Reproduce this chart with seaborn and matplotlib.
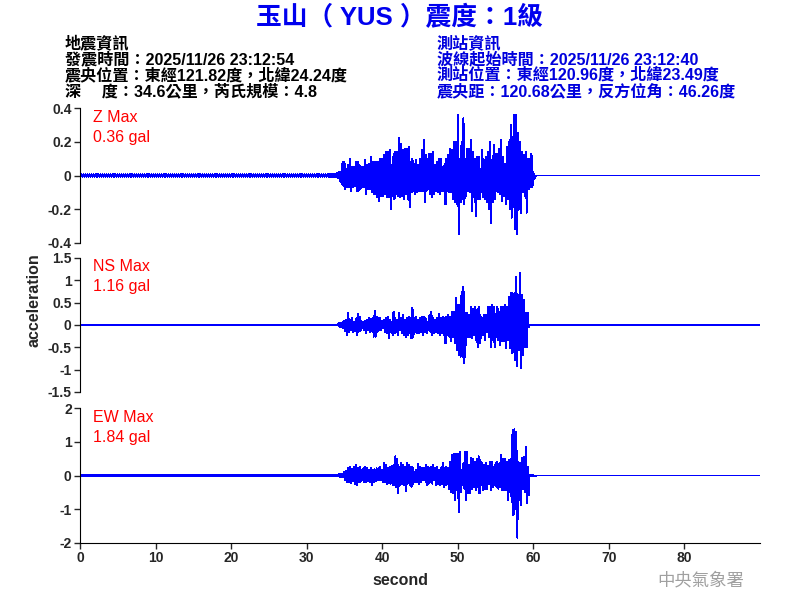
import numpy as np
import seaborn as sns
import matplotlib.pyplot as plt
from matplotlib.ticker import FuncFormatter

# upper / lower peaks of each trace, read every 0.25 s from 33 s to 60 s (gal)
t_start, t_step = 33.0, 0.25

z_up = [0.01, 0.01, 0.01, 0.01, 0.015, 0.02, 0.02, 0.08, 0.08, 0.04,
        0.06, 0.10, 0.05, 0.05, 0.08, 0.08, 0.06, 0.05, 0.05, 0.09,
        0.06, 0.07, 0.11, 0.08, 0.08, 0.08, 0.08, 0.10, 0.10, 0.12,
        0.14, 0.14, 0.15, 0.06, 0.13, 0.14, 0.14, 0.22, 0.19, 0.15,
        0.16, 0.16, 0.17, 0.08, 0.10, 0.07, 0.09, 0.06, 0.10, 0.15,
        0.21, 0.12, 0.10, 0.13, 0.13, 0.14, 0.06, 0.08, 0.10, 0.10,
        0.05, 0.07, 0.10, 0.12, 0.16, 0.15, 0.20, 0.20, 0.36, 0.10,
        0.20, 0.34, 0.10, 0.16, 0.16, 0.21, 0.14, 0.10, 0.11, 0.11,
        0.04, 0.15, 0.09, 0.11, 0.14, 0.20, 0.09, 0.18, 0.13, 0.13,
        0.16, 0.21, 0.11, 0.07, 0.17, 0.20, 0.30, 0.23, 0.36, 0.36,
        0.25, 0.20, 0.14, 0.12, 0.14, 0.10, 0.10, 0.13, 0.02]
z_dn = [-0.01, -0.01, -0.01, -0.01, -0.015, -0.03, -0.05, -0.06, -0.08, -0.07,
        -0.07, -0.09, -0.07, -0.06, -0.09, -0.09, -0.08, -0.07, -0.07, -0.11,
        -0.08, -0.08, -0.10, -0.11, -0.11, -0.13, -0.15, -0.12, -0.12, -0.11,
        -0.13, -0.13, -0.20, -0.12, -0.14, -0.11, -0.12, -0.13, -0.12, -0.14,
        -0.11, -0.14, -0.19, -0.10, -0.09, -0.11, -0.10, -0.09, -0.09, -0.09,
        -0.16, -0.09, -0.08, -0.11, -0.13, -0.11, -0.09, -0.10, -0.11, -0.09,
        -0.09, -0.17, -0.09, -0.10, -0.10, -0.14, -0.16, -0.17, -0.35, -0.16,
        -0.14, -0.17, -0.12, -0.09, -0.10, -0.21, -0.13, -0.24, -0.14, -0.14,
        -0.10, -0.13, -0.14, -0.16, -0.20, -0.28, -0.16, -0.14, -0.09, -0.10,
        -0.11, -0.15, -0.12, -0.17, -0.14, -0.20, -0.25, -0.19, -0.32, -0.35,
        -0.20, -0.22, -0.10, -0.12, -0.22, -0.08, -0.07, -0.07, -0.02]

ns_up = [0.01, 0.01, 0.01, 0.01, 0.01, 0.04, 0.04, 0.06, 0.09, 0.11,
         0.28, 0.11, 0.15, 0.07, 0.13, 0.24, 0.19, 0.09, 0.07, 0.09,
         0.11, 0.15, 0.13, 0.15, 0.31, 0.19, 0.15, 0.15, 0.09, 0.11,
         0.15, 0.19, 0.11, 0.07, 0.30, 0.15, 0.11, 0.26, 0.15, 0.22,
         0.11, 0.15, 0.19, 0.15, 0.39, 0.15, 0.19, 0.11, 0.16, 0.19,
         0.19, 0.15, 0.07, 0.22, 0.30, 0.15, 0.11, 0.15, 0.24, 0.15,
         0.19, 0.15, 0.19, 0.22, 0.19, 0.30, 0.30, 0.60, 0.45, 0.45,
         0.75, 0.86, 0.26, 0.26, 0.22, 0.41, 0.37, 0.41, 0.34, 0.41,
         0.22, 0.15, 0.22, 0.22, 0.41, 0.41, 0.45, 0.41, 0.24, 0.41,
         0.30, 0.41, 0.41, 0.45, 0.41, 0.63, 0.71, 0.71, 0.71, 1.08,
         0.67, 1.16, 0.67, 0.56, 0.28, 0.28, 0.01, 0.01, 0.01]
ns_dn = [-0.01, -0.01, -0.01, -0.01, -0.01, -0.04, -0.04, -0.07, -0.13, -0.22,
         -0.15, -0.11, -0.15, -0.13, -0.22, -0.15, -0.13, -0.07, -0.11, -0.19,
         -0.11, -0.15, -0.13, -0.26, -0.26, -0.15, -0.11, -0.11, -0.07, -0.15,
         -0.19, -0.30, -0.15, -0.22, -0.19, -0.15, -0.22, -0.11, -0.19, -0.22,
         -0.26, -0.22, -0.19, -0.30, -0.26, -0.15, -0.19, -0.19, -0.15, -0.22,
         -0.15, -0.19, -0.11, -0.15, -0.22, -0.19, -0.15, -0.19, -0.22, -0.19,
         -0.22, -0.41, -0.22, -0.26, -0.37, -0.26, -0.41, -0.56, -0.67, -0.71,
         -0.71, -0.86, -0.45, -0.26, -0.26, -0.30, -0.22, -0.34, -0.49, -0.41,
         -0.30, -0.22, -0.34, -0.15, -0.26, -0.49, -0.34, -0.49, -0.26, -0.34,
         -0.45, -0.37, -0.37, -0.52, -0.34, -0.52, -0.63, -0.60, -0.78, -0.93,
         -0.56, -0.97, -0.67, -0.49, -0.49, -0.04, -0.01, -0.01, -0.01]

ew_up = [0.01, 0.01, 0.01, 0.01, 0.01, 0.04, 0.04, 0.04, 0.11, 0.14,
         0.21, 0.26, 0.18, 0.24, 0.31, 0.21, 0.26, 0.16, 0.21, 0.26,
         0.21, 0.16, 0.21, 0.16, 0.18, 0.21, 0.21, 0.26, 0.16, 0.36,
         0.31, 0.21, 0.26, 0.28, 0.31, 0.57, 0.50, 0.26, 0.36, 0.31,
         0.26, 0.36, 0.31, 0.26, 0.26, 0.11, 0.16, 0.33, 0.26, 0.21,
         0.21, 0.31, 0.26, 0.21, 0.26, 0.31, 0.21, 0.26, 0.16, 0.21,
         0.38, 0.21, 0.26, 0.21, 0.41, 0.60, 0.65, 0.65, 0.65, 0.70,
         0.16, 0.36, 0.70, 0.70, 0.31, 0.53, 0.50, 0.41, 0.48, 0.57,
         0.46, 0.36, 0.31, 0.36, 0.28, 0.41, 0.41, 0.26, 0.36, 0.41,
         0.36, 0.60, 0.50, 0.50, 0.41, 0.46, 0.50, 1.35, 1.37, 1.30,
         0.41, 0.36, 0.53, 0.55, 0.85, 0.26, 0.01, 0.01, 0.01]
ew_dn = [-0.01, -0.01, -0.01, -0.01, -0.01, -0.04, -0.04, -0.04, -0.14, -0.19,
         -0.19, -0.22, -0.16, -0.24, -0.29, -0.19, -0.19, -0.14, -0.19, -0.19,
         -0.16, -0.19, -0.29, -0.19, -0.16, -0.14, -0.14, -0.14, -0.19, -0.19,
         -0.24, -0.22, -0.24, -0.29, -0.29, -0.34, -0.51, -0.29, -0.24, -0.29,
         -0.46, -0.24, -0.29, -0.34, -0.24, -0.19, -0.19, -0.24, -0.19, -0.14,
         -0.14, -0.29, -0.24, -0.19, -0.24, -0.14, -0.29, -0.24, -0.29, -0.24,
         -0.34, -0.29, -0.24, -0.39, -0.49, -0.53, -0.73, -0.44, -1.08, -0.49,
         -0.29, -0.39, -0.73, -0.53, -0.53, -0.39, -0.34, -0.44, -0.34, -0.53,
         -0.29, -0.44, -0.39, -0.39, -0.24, -0.44, -0.34, -0.29, -0.34, -0.39,
         -0.34, -0.44, -0.44, -0.44, -0.73, -0.49, -0.78, -1.18, -0.98, -1.84,
         -0.73, -0.88, -0.39, -0.49, -0.83, -0.58, -0.01, -0.01, -0.01]

# background noise level before the P arrival
quiet_amp = {"Z": 0.006, "NS": 0.006, "EW": 0.006}

components = ["Z", "NS", "EW"]
max_gal = ["0.36", "1.16", "1.84"]
y_ticks = [[-0.4, -0.2, 0, 0.2, 0.4], [-1.5, -1, -0.5, 0, 0.5, 1, 1.5], [-2, -1, 0, 1, 2]]
x_ticks = [0, 10, 20, 30, 40, 50, 60, 70, 80]

title = "玉山（ YUS ）震度：1級"
info_left = ["地震資訊",
             "發震時間：2025/11/26 23:12:54",
             "震央位置：東經121.82度，北緯24.24度",
             "深　 度：34.6公里，芮氏規模：4.8"]
info_right = ["測站資訊",
              "波線起始時間：2025/11/26 23:12:40",
              "測站位置：東經120.96度，北緯23.49度",
              "震央距：120.68公里，反方位角：46.26度"]

sns.set_style("white")
plt.rcParams["font.family"] = ["Liberation Sans", "Noto Sans CJK TC", "DejaVu Sans"]
plt.rcParams["axes.unicode_minus"] = False

MIX = ["Liberation Sans", "Noto Sans CJK TC"]


def trace(up, dn, quiet):
    # zig-zag between the read peaks, quiet segment before, zero line after
    xs, ys = [], []
    for i in range(int(t_start / t_step)):
        xs += [i * t_step, i * t_step + t_step / 2]
        ys += [quiet, -quiet]
    for i, (u, d) in enumerate(zip(up, dn)):
        t = t_start + i * t_step
        xs += [t, t + t_step / 2]
        ys += [u, d]
    xs += [xs[-1] + t_step, 90]
    ys += [0, 0]
    return np.array(xs), np.array(ys)


fig = plt.figure(figsize=(8, 6), dpi=100)
boxes = [[0.10, 0.595, 0.85, 0.225],
         [0.10, 0.3467, 0.85, 0.2233],
         [0.10, 0.095, 0.85, 0.225]]
series = [(z_up, z_dn), (ns_up, ns_dn), (ew_up, ew_dn)]

fmt = FuncFormatter(lambda v, p: "{:g}".format(v))

for k, comp in enumerate(components):
    ax = fig.add_axes(boxes[k])
    xs, ys = trace(*series[k], quiet_amp[comp])
    sns.lineplot(x=xs, y=ys, sort=False, estimator=None, color="blue",
                 linewidth=0.72, antialiased=False, ax=ax)
    ax.set_xlim(0, 90)
    ax.set_ylim(y_ticks[k][0], y_ticks[k][-1])
    ax.set_yticks(y_ticks[k])
    ax.yaxis.set_major_formatter(fmt)
    for s in ["top", "right"]:
        ax.spines[s].set_visible(False)
    ax.spines["left"].set_color("black")
    ax.spines["bottom"].set_color("black")
    ax.tick_params(axis="y", direction="out", length=4, width=1, left=True,
                   labelsize=10, pad=2)
    for lab in ax.get_yticklabels():
        lab.set_fontweight("bold")
    if k < 2:
        ax.spines["bottom"].set_visible(False)
        ax.set_xticks([])
    else:
        ax.set_xticks(x_ticks)
        ax.tick_params(axis="x", direction="out", length=4, width=1, bottom=True,
                       labelsize=10, pad=2)
        for lab in ax.get_xticklabels():
            lab.set_fontweight("bold")
    ax.set_xlabel("")
    ax.set_ylabel("")
    ax.text(0.019, 0.933, comp + " Max", transform=ax.transAxes, color="red",
            fontsize=11.5, va="center", ha="left")
    ax.text(0.019, 0.785, max_gal[k] + " gal", transform=ax.transAxes, color="red",
            fontsize=11.5, va="center", ha="left")

fig.text(0.5, 0.97, title, color="#0000ee", fontsize=18.5,
         fontweight="bold", ha="center", va="center", family=MIX)
for i, line in enumerate(info_left):
    fig.text(0.081, 1 - (43 + 16 * i) / 600, line, color="black", fontsize=11.6,
             fontweight="bold", ha="left", va="center", family=MIX)
for i, line in enumerate(info_right):
    fig.text(0.546, 1 - (43 + 16 * i) / 600, line, color="#0000dd", fontsize=11.6,
             fontweight="bold", ha="left", va="center", family=MIX)

fig.text(0.042, 0.50, "acceleration", rotation=90, fontsize=11.5,
         fontweight="bold", ha="center", va="center")
fig.text(0.50, 0.033, "second", fontsize=11.5, fontweight="bold",
         ha="center", va="center")
fig.text(0.876, 0.032, "中央氣象署", color="#a0a0a0", fontsize=12.5,
         ha="center", va="center", family=["Noto Sans CJK TC"])

fig.savefig("out.png", dpi=100)
